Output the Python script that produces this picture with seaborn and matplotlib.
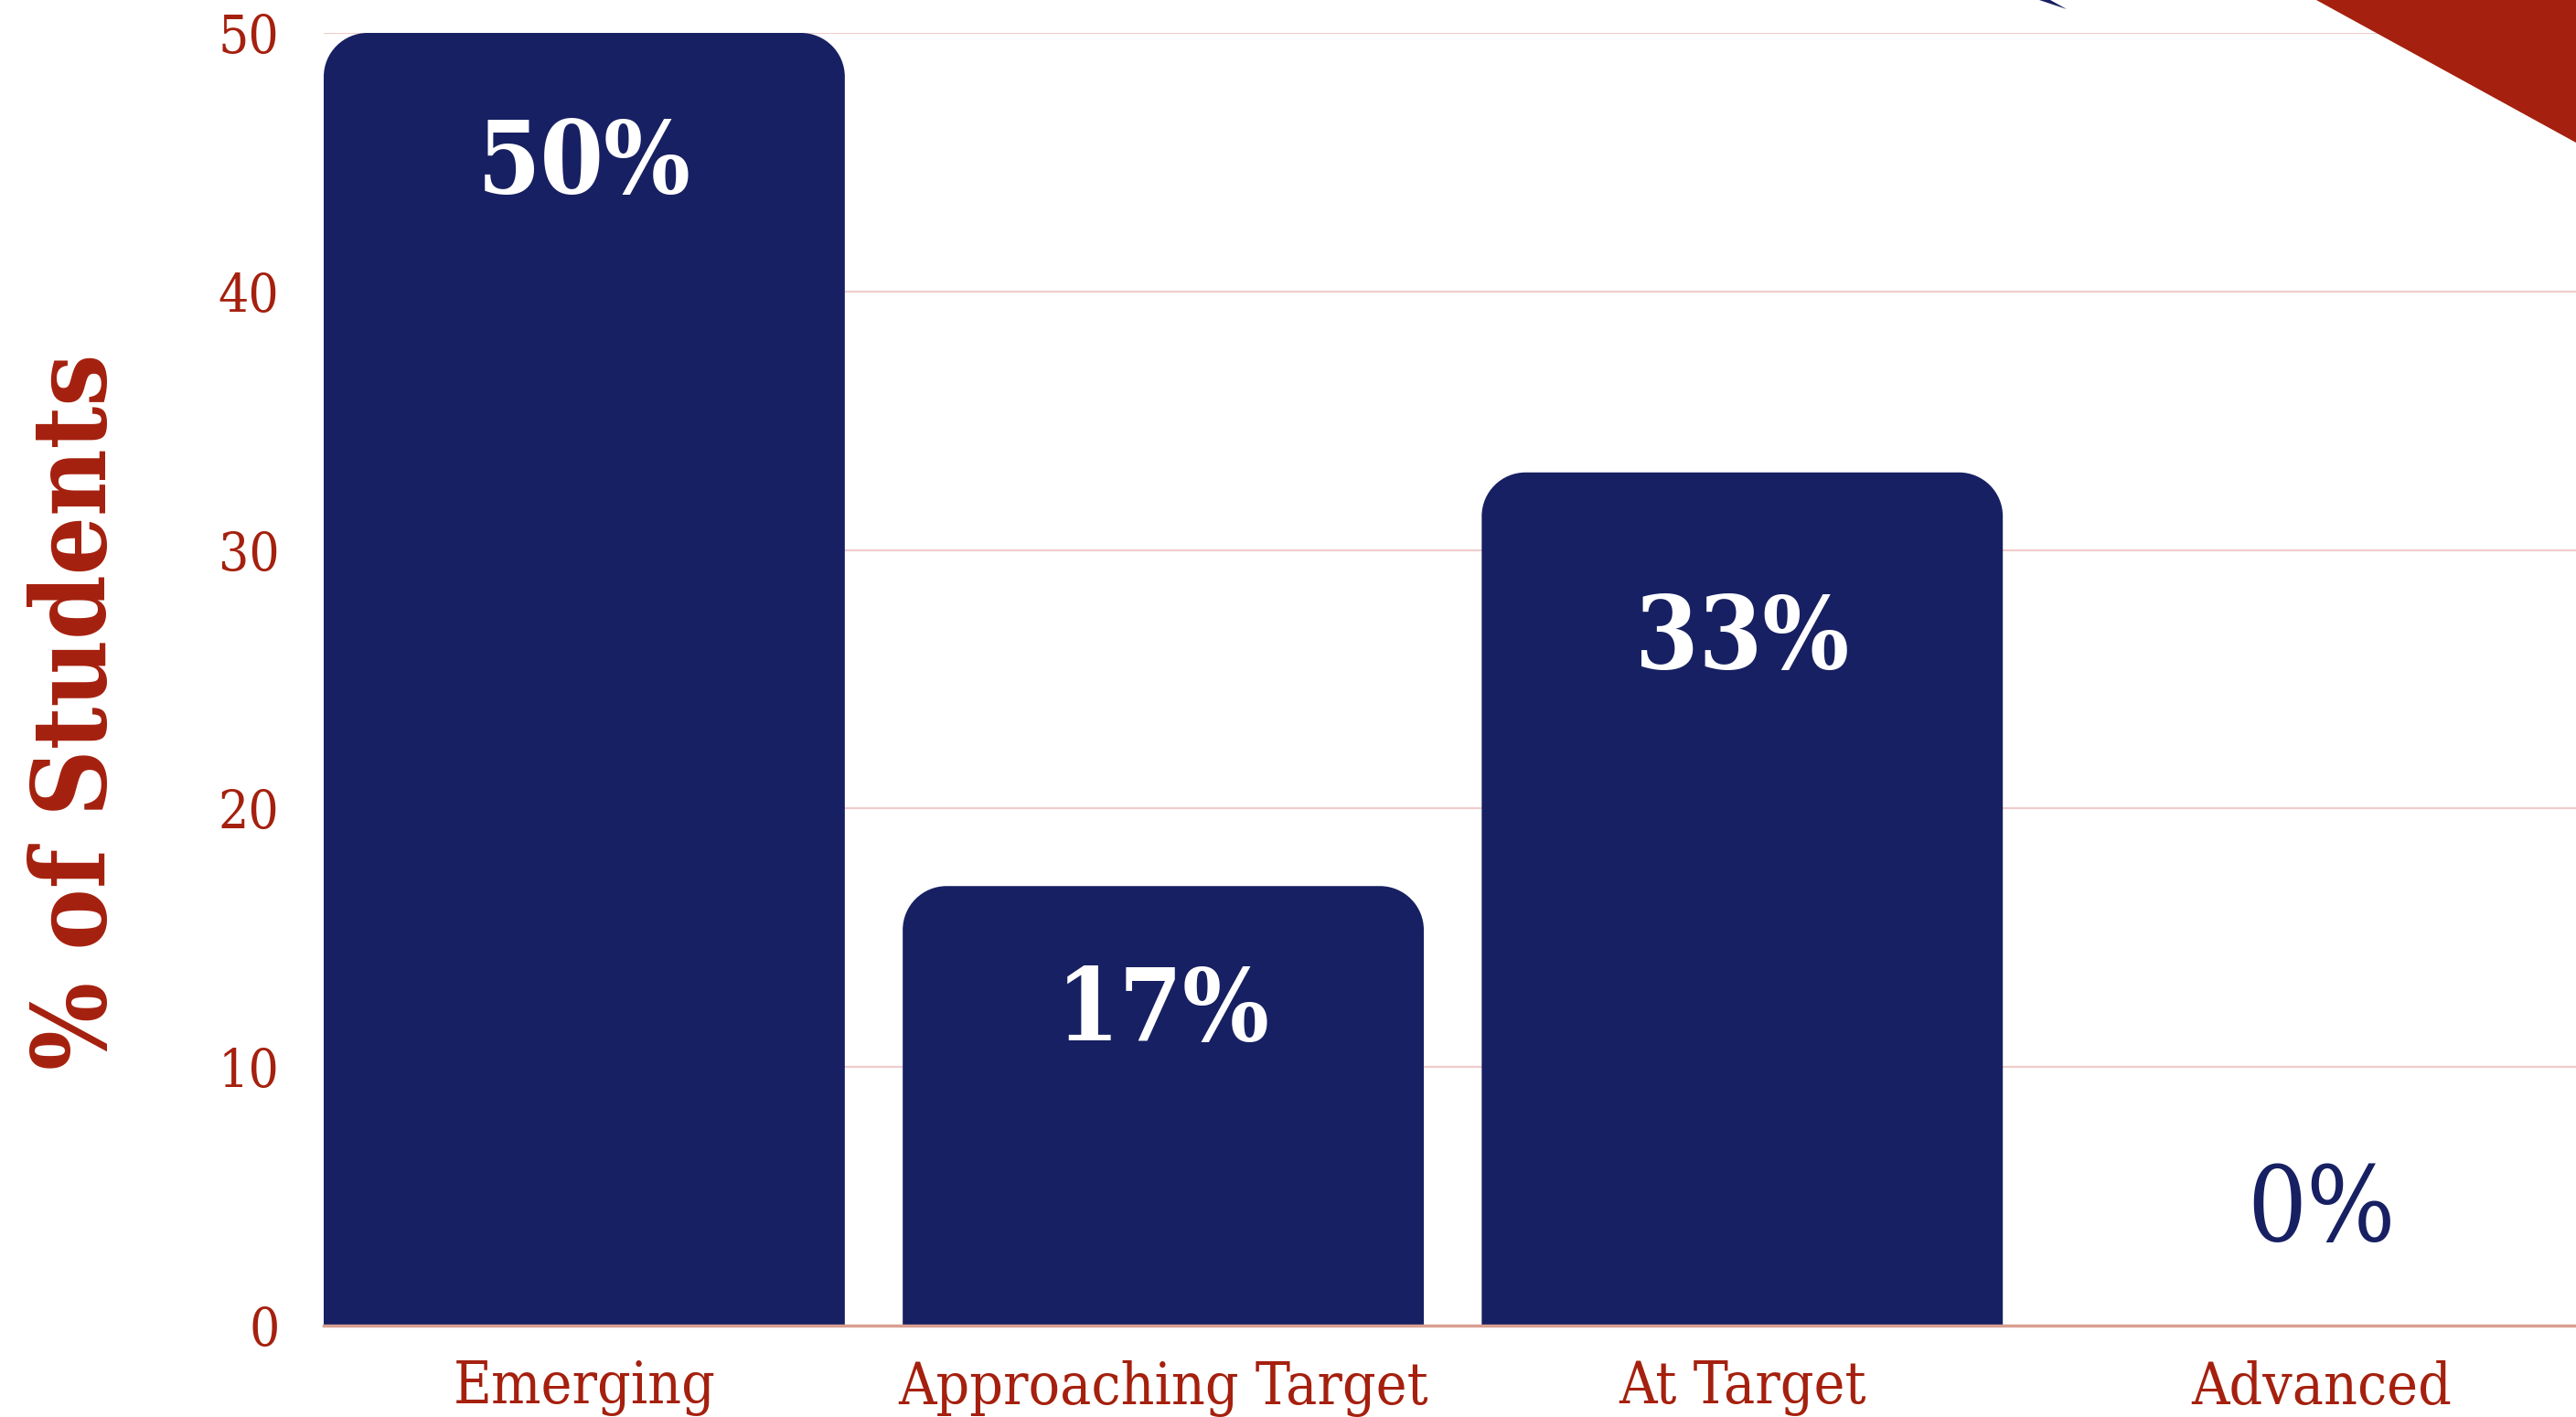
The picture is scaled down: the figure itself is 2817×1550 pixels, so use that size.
import pandas as pd
import matplotlib
matplotlib.use("Agg")
import matplotlib.pyplot as plt
import seaborn as sns
from matplotlib.patches import PathPatch, Polygon
from matplotlib.path import Path

# data
levels = ["Emerging", "Approaching Target", "At Target", "Advanced"]
pct_students = [50, 17, 33, 0]
bar_labels = ["50%", "17%", "33%", "0%"]

# label placement (units below bar top), styling only
label_drop = [5.1, 4.9, 6.5, -4.4]

NAVY = "#172062"
RED = "#A5200E"
GRID = "#F0CCCC"
BASE = "#D9A092"

sns.set_theme(style="white")
plt.rcParams["font.family"] = ["DejaVu Serif"]

df = pd.DataFrame({"Level": levels, "Pct": pct_students})

W, H = 2817, 1550
fig = plt.figure(figsize=(W / 100, H / 100), dpi=100)
ax = fig.add_axes([354 / W, 100 / H, 1 - 354 / W, (1450 - 36) / H])

sns.barplot(data=df, x="Level", y="Pct", color=NAVY, width=0.9,
            saturation=1, ax=ax, zorder=2)

ax.set_xlim(-0.45, 3.44)
ax.set_ylim(0, 50)

# swap each bar for the same bar with rounded top corners
rx, ry = 48 / 633, 48 / 28.28
k = 0.5523
for p in list(ax.patches):
    h = p.get_height()
    if h <= 0:
        continue
    x0, x1 = p.get_x(), p.get_x() + p.get_width()
    verts = [(x0, 0), (x0, h - ry),
             (x0, h - ry + k * ry), (x0 + rx - k * rx, h), (x0 + rx, h),
             (x1 - rx, h),
             (x1 - rx + k * rx, h), (x1, h - ry + k * ry), (x1, h - ry),
             (x1, 0), (x0, 0)]
    codes = [Path.MOVETO, Path.LINETO,
             Path.CURVE4, Path.CURVE4, Path.CURVE4,
             Path.LINETO,
             Path.CURVE4, Path.CURVE4, Path.CURVE4,
             Path.LINETO, Path.CLOSEPOLY]
    ax.add_patch(PathPatch(Path(verts, codes), fc=NAVY, ec="none", zorder=2))
    p.set_visible(False)

# value labels
for i, (v, lab, d) in enumerate(zip(pct_students, bar_labels, label_drop)):
    if v > 0:
        ax.text(i, v - d, lab, ha="center", va="center", color="white",
                fontsize=80, fontweight="bold", fontstretch="condensed", zorder=3)
    else:
        ax.text(i, v - d, lab, ha="center", va="center", color=NAVY,
                fontsize=82, fontstretch="condensed", zorder=3)

ax.set_yticks(range(0, 51, 10))
ax.yaxis.grid(True, color=GRID, lw=1.6)
ax.set_axisbelow(True)
ax.tick_params(axis="y", length=0, pad=35, labelsize=42, labelcolor=RED)
ax.tick_params(axis="x", length=0, pad=27, labelsize=46, labelcolor=RED)
for t in ax.get_xticklabels() + ax.get_yticklabels():
    t.set_fontstretch("condensed")

for s in ["top", "right", "left"]:
    ax.spines[s].set_visible(False)
ax.spines["bottom"].set_color(BASE)
ax.spines["bottom"].set_linewidth(2.5)

ax.set_xlabel("")
ax.set_ylabel("% of Students", fontsize=81, fontweight="bold", color=RED,
              fontstretch="condensed", va="center")
ax.yaxis.set_label_coords(-0.1096, 0.475)

# corner decorations
fig.patches.append(Polygon([(2533 / W, 1), (1, 1), (1, 1 - 156 / H)],
                           closed=True, transform=fig.transFigure,
                           fc=RED, ec="none", zorder=5))
fig.patches.append(Polygon([(2230 / W, 1), (2242 / W, 1), (2260 / W, 1 - 10 / H)],
                           closed=True, transform=fig.transFigure,
                           fc=NAVY, ec="none", zorder=5))

fig.savefig("out.png", dpi=100, facecolor="white")
